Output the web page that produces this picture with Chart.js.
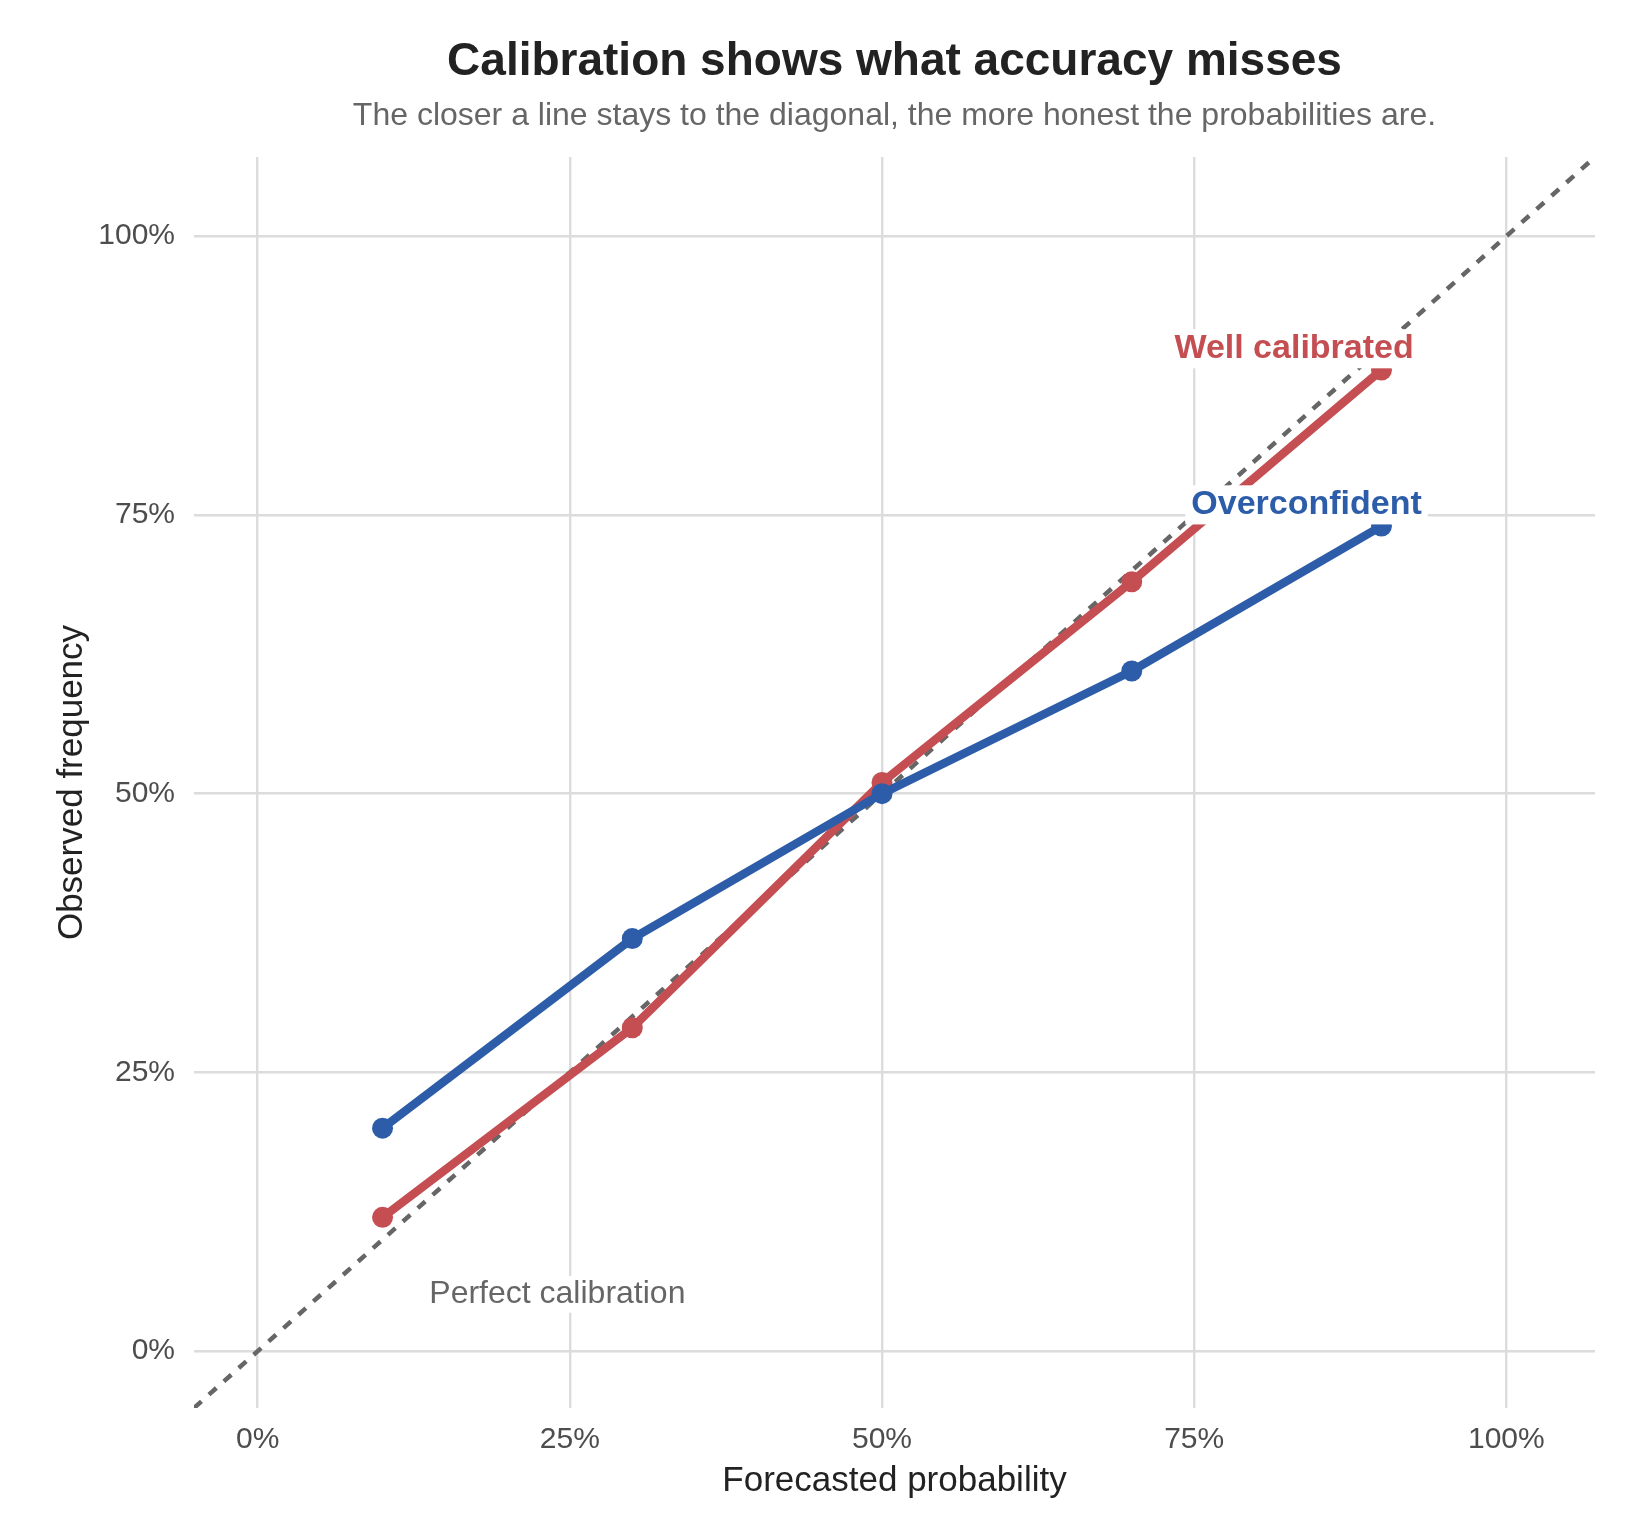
<!DOCTYPE html>
<html>
<head>
<meta charset="utf-8">
<title>Calibration shows what accuracy misses</title>
<script src="https://cdn.jsdelivr.net/npm/chart.js@4.4.1/dist/chart.umd.min.js"></script>
<style>
  html, body { margin: 0; padding: 0; background: #ffffff; }
  #wrap { width: 1650px; height: 1540px; }
</style>
</head>
<body>
<div id="wrap"><canvas id="calChart" width="1650" height="1540"></canvas></div>
<script>
// ---- data ----
var forecastBins = [0.1, 0.3, 0.5, 0.7, 0.9];
var overconfident = [0.20, 0.37, 0.50, 0.61, 0.74];
var wellCalibrated = [0.12, 0.29, 0.51, 0.69, 0.88];

var tickValues = [0, 0.25, 0.5, 0.75, 1];
var tickLabels = ['0%', '25%', '50%', '75%', '100%'];

// axis limits (0..1.02 plus 5% expansion)
var axisMin = -0.051;
var axisMax = 1.071;

// direct labels, in data coordinates
var labelTexts = ['Well calibrated', 'Overconfident', 'Perfect calibration'];
var labelX = [0.830, 0.840, 0.240];
var labelY = [0.899, 0.759, 0.051];

var BLUE = '#2d5da8';
var RED = '#c44e52';
var FONT = '"Liberation Sans", Arial, Helvetica, sans-serif';

function toPoints(xs, ys) {
    return xs.map(function(x, i) { return { x: x, y: ys[i] }; });
}

var labelStyles = [
    { color: RED, weight: 'bold', size: 34 },
    { color: BLUE, weight: 'bold', size: 34 },
    { color: '#666666', weight: 'normal', size: 32 }
];

// white-filled text labels drawn on top of the lines
var directLabels = {
    id: 'directLabels',
    afterDatasetsDraw: function(chart) {
        var ctx = chart.ctx;
        var xs = chart.scales.x, ys = chart.scales.y;
        ctx.save();
        labelTexts.forEach(function(txt, i) {
            var st = labelStyles[i];
            var px = xs.getPixelForValue(labelX[i]);
            var py = ys.getPixelForValue(labelY[i]);
            ctx.font = st.weight + ' ' + st.size + 'px ' + FONT;
            var w = ctx.measureText(txt).width;
            var h = st.size * 1.15;
            ctx.fillStyle = '#ffffff';
            ctx.fillRect(px - w / 2 - 6, py - h / 2, w + 12, h);
            ctx.fillStyle = st.color;
            ctx.textAlign = 'center';
            ctx.textBaseline = 'middle';
            ctx.fillText(txt, px, py);
        });
        ctx.restore();
    }
};

var ctx = document.getElementById('calChart').getContext('2d');
var calChart = new Chart(ctx, {
    type: 'line',
    data: {
        datasets: [{
            label: 'Overconfident',
            data: toPoints(forecastBins, overconfident),
            borderColor: BLUE,
            backgroundColor: BLUE,
            borderWidth: 8.5,
            pointRadius: 10.5,
            pointBorderWidth: 0,
            pointHoverRadius: 10.5,
            tension: 0
        }, {
            label: 'Well calibrated',
            data: toPoints(forecastBins, wellCalibrated),
            borderColor: RED,
            backgroundColor: RED,
            borderWidth: 8.5,
            pointRadius: 10.5,
            pointBorderWidth: 0,
            pointHoverRadius: 10.5,
            tension: 0
        }, {
            label: 'Perfect calibration',
            data: toPoints([axisMin, axisMax], [axisMin, axisMax]),
            borderColor: '#666666',
            borderWidth: 4.5,
            borderDash: [10, 10],
            borderCapStyle: 'butt',
            pointRadius: 0,
            pointHoverRadius: 0,
            tension: 0
        }]
    },
    options: {
        responsive: false,
        animation: false,
        devicePixelRatio: 1,
        layout: { padding: { top: 0, left: 0, right: 55, bottom: 0 } },
        plugins: {
            legend: { display: false },
            tooltip: { enabled: false },
            title: {
                display: true,
                fullSize: false,
                text: 'Calibration shows what accuracy misses',
                color: '#222222',
                font: { family: FONT, size: 46, weight: 'bold' },
                padding: { top: 34.4, bottom: 3 }
            },
            subtitle: {
                display: true,
                fullSize: false,
                text: 'The closer a line stays to the diagonal, the more honest the probabilities are.',
                color: '#666666',
                font: { family: FONT, size: 32 },
                padding: { top: 4.2, bottom: 21.8 }
            }
        },
        scales: {
            x: {
                type: 'linear',
                min: axisMin,
                max: axisMax,
                border: { display: false },
                grid: { color: '#dcdcdc', lineWidth: 2.4, drawTicks: false },
                afterBuildTicks: function(scale) {
                    scale.ticks = tickValues.map(function(v) { return { value: v }; });
                },
                afterFit: function(scale) { scale.height = 132; },
                ticks: {
                    color: '#4d4d4d',
                    padding: 14,
                    font: { family: FONT, size: 30 },
                    callback: function(v) { return tickLabels[tickValues.indexOf(v)]; }
                },
                title: {
                    display: true,
                    text: 'Forecasted probability',
                    color: '#222222',
                    font: { family: FONT, size: 35 },
                    padding: { top: 0, bottom: 38 }
                }
            },
            y: {
                type: 'linear',
                min: axisMin,
                max: axisMax,
                border: { display: false },
                grid: { color: '#dcdcdc', lineWidth: 2.4, drawTicks: false },
                afterBuildTicks: function(scale) {
                    scale.ticks = tickValues.map(function(v) { return { value: v }; });
                },
                afterFit: function(scale) { scale.width = 194; },
                ticks: {
                    color: '#4d4d4d',
                    padding: 19,
                    font: { family: FONT, size: 30 },
                    callback: function(v) { return tickLabels[tickValues.indexOf(v)]; }
                },
                title: {
                    display: true,
                    text: 'Observed frequency',
                    color: '#222222',
                    font: { family: FONT, size: 35 },
                    padding: { top: 51, bottom: 0 }
                }
            }
        }
    },
    plugins: [directLabels]
});
</script>
</body>
</html>
